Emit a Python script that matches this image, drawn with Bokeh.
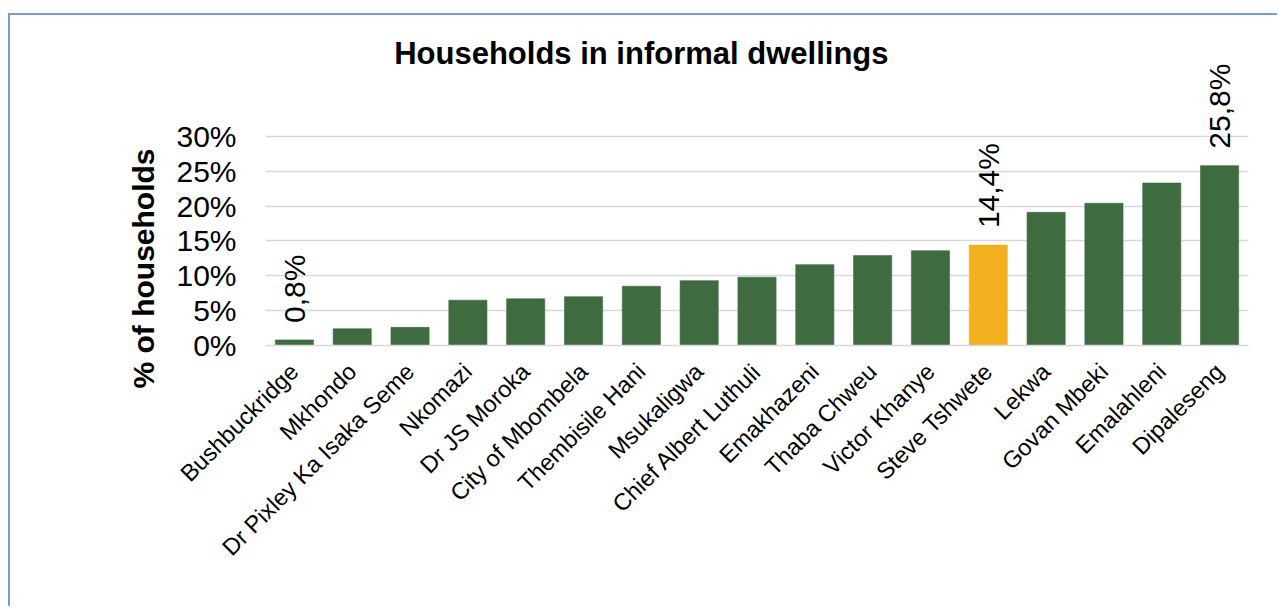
import numpy as np
from bokeh.plotting import figure
from bokeh.models import Range1d, FixedTicker, Label, ColumnDataSource, Title
from bokeh.core.properties import value
from bokeh.embed import file_html
from bokeh.resources import INLINE

# ---- data ----
title_text = "Households in informal dwellings"
y_label = "% of households"
categories = ["Bushbuckridge", "Mkhondo", "Dr Pixley Ka Isaka Seme", "Nkomazi",
              "Dr JS Moroka", "City of Mbombela", "Thembisile Hani", "Msukaligwa",
              "Chief Albert Luthuli", "Emakhazeni", "Thaba Chweu", "Victor Khanye",
              "Steve Tshwete", "Lekwa", "Govan Mbeki", "Emalahleni", "Dipaleseng"]
values = [0.8, 2.4, 2.6, 6.5, 6.7, 7.0, 8.5, 9.3, 9.8, 11.6, 12.9, 13.6,
          14.4, 19.1, 20.4, 23.3, 25.8]
highlight = "Steve Tshwete"
labelled = ["Bushbuckridge", "Steve Tshwete", "Dipaleseng"]
y_ticks = [0, 5, 10, 15, 20, 25, 30]
y_tick_labels = ["0%", "5%", "10%", "15%", "20%", "25%", "30%"]

GREEN = "#3F6B41"
GOLD = "#F2B01E"
FONT = "Liberation Sans"

x = np.arange(len(categories))
colors = [GOLD if c == highlight else GREEN for c in categories]
src = ColumnDataSource(dict(x=x, top=values, color=colors))

p = figure(width=1269, height=593, output_backend="svg", toolbar_location=None,
           x_range=Range1d(-0.5, len(categories) - 0.5), y_range=Range1d(0, 45.9),
           min_border_left=255, min_border_right=31, min_border_top=10,
           min_border_bottom=263, title=None,
           styles={"margin-left": "8px", "margin-top": "13px",
                   "border-left": "2px solid #7A9CCB", "border-top": "2px solid #7A9CCB"})
p.outline_line_color = None
p.background_fill_color = "white"
p.border_fill_color = "white"

p.vbar(x="x", top="top", width=0.66, source=src, fill_color="color",
       line_color="color", line_alpha=0.6, line_width=1)

# grid
p.xgrid.grid_line_color = None
p.ygrid.ticker = FixedTicker(ticks=y_ticks)
p.ygrid.grid_line_color = "#D9D9D9"
p.ygrid.grid_line_width = 1.5

# y axis
ya = p.yaxis[0]
ya.ticker = FixedTicker(ticks=y_ticks)
ya.major_label_overrides = {t: l for t, l in zip(y_ticks, y_tick_labels)}
ya.axis_line_color = None
ya.major_tick_line_color = None
ya.minor_tick_line_color = None
ya.major_tick_in = 0
ya.major_tick_out = 0
ya.major_label_standoff = 29
ya.major_label_text_font = FONT
ya.major_label_text_font_size = "30px"
ya.major_label_text_color = "black"

# x axis
xa = p.xaxis[0]
xa.ticker = FixedTicker(ticks=list(x))
xa.major_label_overrides = {int(i): c for i, c in zip(x, categories)}
xa.major_label_orientation = np.pi / 4
xa.axis_line_color = "#D9D9D9"
xa.axis_line_width = 1.5
xa.major_tick_line_color = None
xa.minor_tick_line_color = None
xa.major_tick_in = 0
xa.major_tick_out = 0
xa.major_label_standoff = 22
xa.major_label_text_font = FONT
xa.major_label_text_font_size = "23.5px"
xa.major_label_text_color = "black"

# data labels
lab_x = [int(x[categories.index(c)]) for c in labelled]
lab_y = [values[categories.index(c)] for c in labelled]
lab_t = [("%.1f" % v).replace(".", ",") + "%" for v in lab_y]
p.text(x=lab_x, y=lab_y, text=lab_t, angle=np.pi / 2, text_align="left",
       text_baseline="middle", y_offset=-17, text_font=value(FONT),
       text_font_size="30px", text_color="black")

# title
p.add_layout(Label(x=6.0, y=41.9, text=title_text, text_align="center",
                   text_baseline="alphabetic", text_font=FONT,
                   text_font_size="31px", text_font_style="bold", text_color="black"))

# y-axis label as a left-side title
p.add_layout(Title(text=y_label, align="left", offset=-43, standoff=28,
                   text_font=FONT, text_font_size="30px", text_font_style="bold",
                   text_color="black"), "left")

open("out.html", "w").write(file_html(p, INLINE))
